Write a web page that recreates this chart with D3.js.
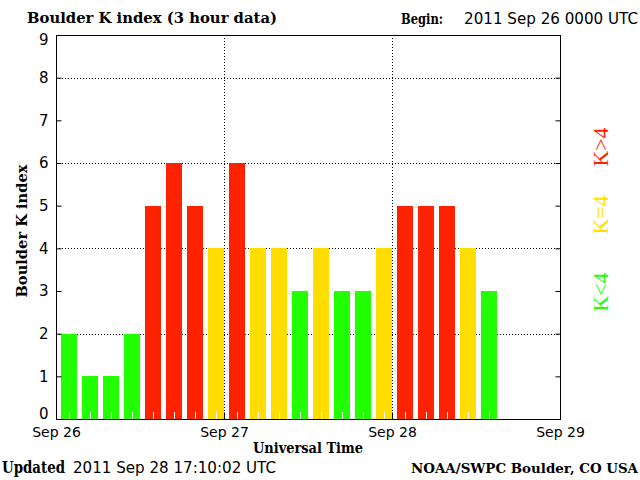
<!DOCTYPE html>
<html><head><meta charset="utf-8">
<script src="https://cdn.jsdelivr.net/npm/d3@7/dist/d3.min.js"></script>
<style>
html,body{margin:0;padding:0;background:#fff;}
svg{display:block;}
.sans{font-family:"DejaVu Sans",sans-serif;}
.serifb{font-family:"DejaVu Serif",serif;font-weight:bold;}
</style></head>
<body>
<script>
// ---- data ----
const startDate = "2011-09-26T00:00:00Z";
const endDate = "2011-09-29T00:00:00Z";
const kValues = [2,1,1,2,5,6,5,4, 6,4,4,3,4,3,3,4, 5,5,5,4,3];
const dayTicks = ["2011-09-26T00:00:00Z","2011-09-27T00:00:00Z","2011-09-28T00:00:00Z","2011-09-29T00:00:00Z"];
const dayLabels = ["Sep 26","Sep 27","Sep 28","Sep 29"];
const yTicks = [0,1,2,3,4,5,6,7,8,9];
const gridY = [2,4,6,8];
const legendItems = [
  {label:"K>4", color:"#ff2200"},
  {label:"K=4", color:"#ffdd00"},
  {label:"K<4", color:"#22ff00"}
];
const titleText = "Boulder K index (3 hour data)";
const beginText = "2011 Sep 26 0000 UTC";
const updatedText = "2011 Sep 28 17:10:02 UTC";
const creditText = "NOAA/SWPC Boulder, CO USA";

const W=640,H=480;
const L=56,R=560,T=35,B=419;
const svg=d3.select("body").append("svg").attr("width",W).attr("height",H);

const x=d3.scaleUtc().domain([new Date(startDate),new Date(endDate)]).range([L,R]);
const y=d3.scaleLinear().domain([0,9]).range([B,T]);
const color=v=> v>4?"#ff2200":(v===4?"#ffdd00":"#22ff00");
const t0=new Date(startDate).getTime();
const H3=3*3600*1000;

// grid (dotted)
svg.append("g").selectAll("line").data(gridY).join("line")
  .attr("x1",L).attr("x2",R).attr("y1",d=>Math.round(y(d))+0.5).attr("y2",d=>Math.round(y(d))+0.5)
  .attr("stroke","#000").attr("stroke-dasharray","1,2");
svg.append("g").selectAll("line").data(dayTicks.slice(1,3)).join("line")
  .attr("x1",d=>Math.round(x(new Date(d)))+0.5).attr("x2",d=>Math.round(x(new Date(d)))+0.5)
  .attr("y1",T).attr("y2",B).attr("stroke","#000").attr("stroke-dasharray","1,2");

// bars
const bars=kValues.map((v,i)=>({v,a:new Date(t0+i*H3),b:new Date(t0+(i+1)*H3)}));
svg.append("g").selectAll("rect").data(bars).join("rect")
  .attr("x",d=>Math.round(x(d.a))+5)
  .attr("width",d=>Math.round(x(d.b)-x(d.a))-5)
  .attr("y",d=>Math.round(y(d.v)))
  .attr("height",d=>B-Math.round(y(d.v)))
  .attr("fill",d=>color(d.v));
// white ticks inside bars
svg.append("g").selectAll("line").data(bars).join("line")
  .attr("x1",d=>Math.round(x(d.a))+5+Math.round((x(d.b)-x(d.a)-5)/2)+0.5)
  .attr("x2",d=>Math.round(x(d.a))+5+Math.round((x(d.b)-x(d.a)-5)/2)+0.5)
  .attr("y1",B-7).attr("y2",B).attr("stroke","#fff");

// axes via d3
const yAxisL=d3.axisLeft(y).tickValues(yTicks).tickSize(-5).tickPadding(8).tickFormat(d3.format("d"));
const gL=svg.append("g").attr("transform",`translate(${L+0.5},0)`).call(yAxisL);
gL.select(".domain").remove();
gL.selectAll(".tick text").attr("font-size",15).attr("fill","#000").attr("font-family","DejaVu Sans")
  .attr("y",d=> d===0?-5:(d===9?5:0));
const yAxisR=d3.axisRight(y).tickValues(yTicks).tickSize(-5).tickFormat("");
const gR=svg.append("g").attr("transform",`translate(${R+0.5},0)`).call(yAxisR);
gR.select(".domain").remove();
const xAxis=d3.axisBottom(x).tickValues(dayTicks.map(d=>new Date(d))).tickSize(-7).tickPadding(8)
  .tickFormat((d,i)=>dayLabels[i]);
const gX=svg.append("g").attr("transform",`translate(0,${B+0.5})`).call(xAxis);
gX.select(".domain").remove();
gX.selectAll(".tick text").attr("font-size",14).attr("font-family","DejaVu Sans").attr("fill","#000");

// frame
svg.append("rect").attr("x",L+0.5).attr("y",T+0.5).attr("width",R-L).attr("height",B-T)
  .attr("fill","none").attr("stroke","#000");

// texts
svg.append("text").attr("class","serifb").attr("x",27).attr("y",23).attr("font-size",15)
  .attr("textLength",250).attr("lengthAdjust","spacingAndGlyphs").text(titleText);
svg.append("text").attr("class","serifb").attr("x",401).attr("y",24).attr("font-size",15)
  .attr("textLength",42).attr("lengthAdjust","spacingAndGlyphs").text("Begin:");
svg.append("text").attr("class","sans").attr("x",464).attr("y",24).attr("font-size",15)
  .attr("textLength",174).attr("lengthAdjust","spacingAndGlyphs").text(beginText);
svg.append("text").attr("class","serifb").attr("transform","translate(27,231) rotate(-90)")
  .attr("text-anchor","middle").attr("font-size",14)
  .attr("textLength",133).attr("lengthAdjust","spacingAndGlyphs").text("Boulder K index");
svg.append("text").attr("class","serifb").attr("x",308).attr("y",453).attr("text-anchor","middle").attr("font-size",14)
  .attr("textLength",110).attr("lengthAdjust","spacingAndGlyphs").text("Universal Time");
svg.append("text").attr("class","serifb").attr("x",2).attr("y",473).attr("font-size",16)
  .attr("textLength",63).attr("lengthAdjust","spacingAndGlyphs").text("Updated");
svg.append("text").attr("class","sans").attr("x",73).attr("y",473).attr("font-size",15)
  .attr("textLength",203).attr("lengthAdjust","spacingAndGlyphs").text(updatedText);
svg.append("text").attr("class","serifb").attr("x",411).attr("y",473).attr("font-size",13)
  .attr("textLength",227).attr("lengthAdjust","spacingAndGlyphs").text(creditText);

// legend (rotated)
const legY=[147,215,292];
svg.append("g").selectAll("text").data(legendItems).join("text")
  .attr("transform",(d,i)=>`translate(608,${legY[i]}) rotate(-90)`)
  .attr("text-anchor","middle").attr("font-family","Liberation Serif, serif").attr("font-size",21)
  .attr("textLength",39).attr("lengthAdjust","spacingAndGlyphs")
  .attr("fill",d=>d.color).text(d=>d.label);
</script>
</body></html>
